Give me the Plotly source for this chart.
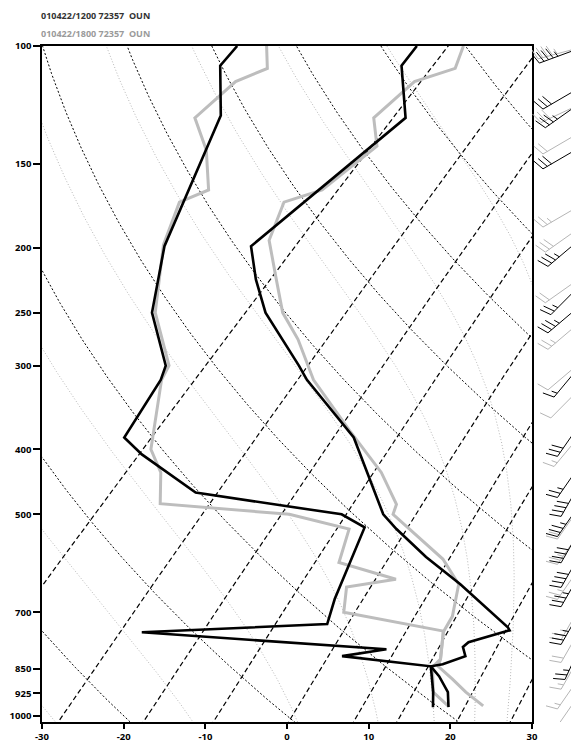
import numpy as np
import plotly.graph_objects as go

SKEW = 81.0            # deg C of skew per decade of pressure
PX_PER_DECADE = 671.0  # vertical pixels per decade (for wind barb geometry)

# ---------------- 010422/1200 72357 OUN ----------------
p_1200_t = [100, 107, 128, 199, 223, 250, 300, 315, 384, 500, 526, 579, 636, 737, 745,
            776, 789, 814, 837, 843, 872, 921, 970]
t_1200 = [-65.1, -64.6, -57.8, -61.2, -56.6, -51.4, -40.9, -38.2, -25.5, -12.6, -9.2, -2.2,
          5.3, 16.3, 16.9, 13.3, 13.2, 14.6, 12.8, 11.6, 13.8, 16.8, 18.7]
p_1200_td = [100, 107, 127, 199, 250, 300, 315, 384, 407, 464, 500, 523, 669, 729, 750,
             795, 814, 831, 843, 921, 970]
td_1200 = [-87.1, -86.8, -80.7, -71.8, -65.3, -57.2, -56.1, -53.6, -49.4, -38.2, -17.7,
           -13.3, -8.3, -6.2, -27.9, 4.1, -0.5, 6.9, 11.6, 15.0, 16.8]

# ---------------- 010422/1800 72357 OUN ----------------
p_1800_t = [100, 108, 113, 128, 141, 164, 171, 195, 223, 250, 274, 315, 374, 433, 483,
            500, 583, 636, 710, 750, 822, 843, 881, 921, 966]
t_1800 = [-59.4, -57.7, -61.1, -61.7, -57.9, -59.3, -62.5, -59.7, -54.1, -49.3, -44.2,
          -37.4, -27.0, -17.9, -12.2, -11.4, 0.1, 5.1, 8.2, 9.0, 11.9, 12.5, 15.8, 19.0, 22.8]
p_1800_td = [100, 108, 113, 128, 143, 164, 171, 198, 250, 300, 315, 400, 433, 482, 500,
             526, 590, 625, 642, 700, 747, 822, 845, 921, 966]
td_1800 = [-83.5, -80.7, -83.0, -83.6, -78.3, -73.2, -75.3, -72.1, -64.9, -56.8, -56.0,
           -48.9, -44.9, -41.2, -24.1, -15.0, -12.2, -3.2, -8.3, -5.6, 8.9, 11.9, 11.9,
           15.0, 18.5]

# ---------------- winds (pressure hPa, direction deg, speed kt) ----------------
wp_1200 = [100, 114, 120, 140, 191, 223, 240, 293, 356, 410, 434, 469, 509, 554, 592, 674, 755]
wd_1200 = [250, 240, 235, 240, 230, 225, 230, 220, 215, 215, 210, 215, 210, 210, 210, 210, 205]
ws_1200 = [45, 30, 35, 30, 35, 25, 35, 15, 30, 25, 40, 35, 40, 40, 35, 35, 25]

wp_1800 = [100, 121, 133, 171, 184, 219, 254, 292, 318, 372, 473, 516, 582, 663, 717, 786, 848, 899]
wd_1800 = [255, 245, 240, 240, 235, 235, 230, 230, 225, 220, 215, 215, 215, 210, 210, 210, 215, 215]
ws_1800 = [45, 30, 20, 25, 30, 20, 25, 10, 10, 15, 20, 25, 25, 25, 20, 15, 15, 10]

# ---------------- axis ticks ----------------
p_ticks = [100, 150, 200, 250, 300, 400, 500, 700, 850, 925, 1000]
t_ticks = [-30, -20, -10, 0, 10, 20, 30]

# background line families
dry_theta_c = list(range(-60, 201, 20))
moist_t0_c = [-29, -12, 1, 11, 18, 23, 27, 31]
mix_ratio_gkg = [0.1, 0.4, 1, 2, 4, 7, 10, 16, 24]

P_BOTTOM = 1020.8
P_TOP = 100.0


def skew_x(t, p):
    t = np.asarray(t, dtype=float)
    p = np.asarray(p, dtype=float)
    return t + SKEW * np.log10(1000.0 / p)


fig = go.Figure()

p_grid = np.geomspace(1060, 95, 300)

# moist adiabats (pseudo-adiabatic)
Rd, Rv, cp, Lv, eps = 287.04, 461.5, 1005.7, 2.501e6, 0.622


def es_hpa(tk):
    return 6.112 * np.exp(17.67 * (tk - 273.15) / (tk - 29.65))


def dtdp(tk, p):
    e = es_hpa(tk)
    rs = eps * e / max(p - e, 1e-3)
    return (Rd * tk + Lv * rs) / (p * (cp + Lv * Lv * rs * eps / (Rd * tk * tk)))


def moist_profile(t0c, p_start, p_end, n=400):
    ps = np.linspace(p_start, p_end, n)
    tk = t0c + 273.15
    out = [tk]
    for i in range(1, n):
        h = ps[i] - ps[i - 1]
        p = ps[i - 1]
        k1 = dtdp(tk, p)
        k2 = dtdp(tk + 0.5 * h * k1, p + 0.5 * h)
        k3 = dtdp(tk + 0.5 * h * k2, p + 0.5 * h)
        k4 = dtdp(tk + h * k3, p + h)
        tk = tk + h / 6 * (k1 + 2 * k2 + 2 * k3 + k4)
        out.append(tk)
    return ps, np.array(out) - 273.15


for t0 in moist_t0_c:
    pu, tu = moist_profile(t0, 1000.0, 95.0)
    pdn, tdn = moist_profile(t0, 1000.0, 1060.0, 40)
    pp = np.concatenate([pdn[::-1], pu[1:]])
    tt = np.concatenate([tdn[::-1], tu[1:]])
    fig.add_trace(go.Scatter(x=skew_x(tt, pp), y=pp, mode='lines',
                             line=dict(color='#b8b8b8', width=1, dash='1px,2px'),
                             hoverinfo='skip'))

# dry adiabats
for th in dry_theta_c:
    tt = (th + 273.15) * (p_grid / 1000.0) ** 0.2857 - 273.15
    fig.add_trace(go.Scatter(x=skew_x(tt, p_grid), y=p_grid, mode='lines',
                             line=dict(color='black', width=1, dash='2px,2px'),
                             hoverinfo='skip'))

# mixing ratio lines
for w in mix_ratio_gkg:
    e = w * p_grid / (622.0 + w)
    ln = np.log(e / 6.112)
    td = 243.5 * ln / (17.67 - ln)
    fig.add_trace(go.Scatter(x=skew_x(td, p_grid), y=p_grid, mode='lines',
                             line=dict(color='black', width=1.2, dash='5px,3px'),
                             hoverinfo='skip'))

# soundings
GRAY = '#bdbdbd'
fig.add_trace(go.Scatter(x=skew_x(td_1800, p_1800_td), y=p_1800_td, mode='lines',
                         line=dict(color=GRAY, width=3), name='Td 1800'))
fig.add_trace(go.Scatter(x=skew_x(t_1800, p_1800_t), y=p_1800_t, mode='lines',
                         line=dict(color=GRAY, width=3), name='T 1800'))
fig.add_trace(go.Scatter(x=skew_x(td_1200, p_1200_td), y=p_1200_td, mode='lines',
                         line=dict(color='black', width=2.6), name='Td 1200'))
fig.add_trace(go.Scatter(x=skew_x(t_1200, p_1200_t), y=p_1200_t, mode='lines',
                         line=dict(color='black', width=2.6), name='T 1200'))

# wind barbs (drawn on an auxiliary pixel-unit x axis sharing the pressure axis)
X_STATION = 592.0
STAFF = 50.0
BARB = 12.0
SPACING = 5.0


def barbs(plist, dlist, slist):
    xs, ys = [], []
    a = np.deg2rad(70)
    for p0, d, s in zip(plist, dlist, slist):
        r = np.deg2rad(d)
        u = np.array([np.sin(r), np.cos(r)])
        perp = np.array([np.cos(r), -np.sin(r)])
        f = np.cos(a) * u + np.sin(a) * perp

        def pt(v):
            return X_STATION + v[0], p0 * 10 ** (-v[1] / PX_PER_DECADE)

        for v in (np.zeros(2), STAFF * u):
            x, y = pt(v)
            xs.append(x); ys.append(y)
        xs.append(None); ys.append(None)
        n_full = int(s // 10)
        half = (s % 10) >= 5
        pos = STAFF
        for i in range(n_full):
            b = pos * u
            for v in (b, b + BARB * f):
                x, y = pt(v)
                xs.append(x); ys.append(y)
            xs.append(None); ys.append(None)
            pos -= SPACING
        if half:
            if n_full == 0:
                pos -= SPACING
            b = pos * u
            for v in (b, b + 0.5 * BARB * f):
                x, y = pt(v)
                xs.append(x); ys.append(y)
            xs.append(None); ys.append(None)
    return xs, ys


bx, by = barbs(wp_1800, wd_1800, ws_1800)
fig.add_trace(go.Scatter(x=bx, y=by, mode='lines', xaxis='x2', yaxis='y',
                         line=dict(color='#b5b5b5', width=1), hoverinfo='skip'))
bx, by = barbs(wp_1200, wd_1200, ws_1200)
fig.add_trace(go.Scatter(x=bx, y=by, mode='lines', xaxis='x2', yaxis='y',
                         line=dict(color='black', width=1), hoverinfo='skip'))

W = 577
H = 743
L_MARGIN = 42
T_MARGIN = 46
B_MARGIN = H - 723
PLOT_H = H - T_MARGIN - B_MARGIN
dom_end = 495.6 / (W - L_MARGIN)

tickfont = dict(family='Open Sans', size=9.5, color='black', weight=700)

fig.update_layout(
    width=W, height=H,
    margin=dict(l=L_MARGIN, r=0, t=T_MARGIN, b=B_MARGIN, pad=0),
    plot_bgcolor='white', paper_bgcolor='white', showlegend=False,
    xaxis=dict(domain=[0, dom_end], range=[-30, 30], tickvals=t_ticks,
               ticktext=[str(v) for v in t_ticks], ticks='outside', ticklen=5,
               tickwidth=1.5, tickcolor='black', showline=True, mirror=True,
               linecolor='black', linewidth=1.5, showgrid=False, zeroline=False,
               tickfont=tickfont),
    yaxis=dict(type='log', range=[np.log10(P_BOTTOM), np.log10(P_TOP)],
               tickvals=p_ticks, ticktext=[str(v) for v in p_ticks], ticks='outside',
               ticklen=7, tickwidth=1.5, tickcolor='black', showline=True, mirror=True,
               linecolor='black', linewidth=1.5, showgrid=False, zeroline=False,
               tickfont=tickfont),
    xaxis2=dict(domain=[dom_end, 1], range=[537.6, 577], anchor='y', visible=False),
    annotations=[
        dict(text='010422/1200 72357\u00a0\u00a0OUN', xref='paper', yref='paper',
             x=(39 - L_MARGIN) / (W - L_MARGIN), y=(723 - 15) / PLOT_H,
             xanchor='left', yanchor='middle', showarrow=False,
             font=dict(family='Open Sans', size=9, color='#333333', weight=700)),
        dict(text='010422/1800 72357\u00a0\u00a0OUN', xref='paper', yref='paper',
             x=(39 - L_MARGIN) / (W - L_MARGIN), y=(723 - 33) / PLOT_H,
             xanchor='left', yanchor='middle', showarrow=False,
             font=dict(family='Open Sans', size=9, color='#9a9a9a', weight=700)),
    ],
)

fig.write_html('out.html',
               config={'displayModeBar': False},
               post_script="document.body.style.margin='0';"
                           "document.documentElement.style.overflow='hidden';")
